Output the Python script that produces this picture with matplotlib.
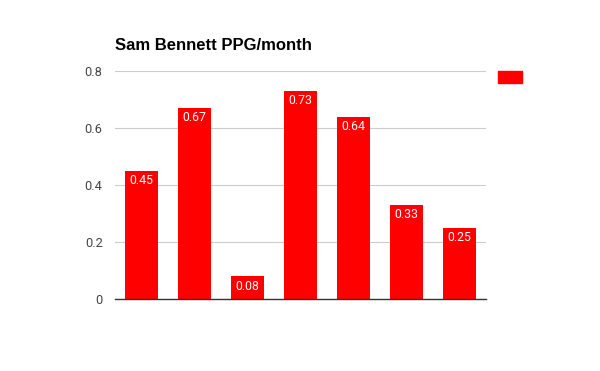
import matplotlib
matplotlib.use('Agg')
from matplotlib import pyplot as plt
from matplotlib.patches import Rectangle

# Points per game by month
months = ['M1', 'M2', 'M3', 'M4', 'M5', 'M6', 'M7']
ppg = [0.45, 0.67, 0.08, 0.73, 0.64, 0.33, 0.25]
labels = ['0.45', '0.67', '0.08', '0.73', '0.64', '0.33', '0.25']
y_ticks = [0, 0.2, 0.4, 0.6, 0.8]
y_tick_labels = ['0', '0.2', '0.4', '0.6', '0.8']

fig = plt.figure(figsize=(6, 3.71), dpi=100)
ax = fig.add_axes([115 / 600, 1 - 299 / 371, 371 / 600, 228 / 371])

xs = range(len(ppg))
ax.bar(xs, ppg, width=0.61, color='#ff0000', zorder=3)
for x, v, lab in zip(xs, ppg, labels):
    ax.text(x, v - 0.012, lab, ha='center', va='top', color='white',
            fontsize=8.8, family='Roboto', zorder=4)

ax.set_xlim(-0.5, len(ppg) - 0.5)
ax.set_ylim(0, 0.8)
ax.set_yticks(y_ticks)
ax.set_yticklabels(y_tick_labels, family='Roboto', fontsize=9.2, color='#444444')
ax.set_xticks([])
ax.tick_params(axis='y', length=0, pad=9)
ax.grid(axis='y', color='#cccccc', linewidth=0.8, zorder=0)
for s in ['top', 'right', 'left']:
    ax.spines[s].set_visible(False)
ax.spines['bottom'].set_color('#333333')
ax.spines['bottom'].set_linewidth(1)
ax.spines['bottom'].set_zorder(5)

fig.text(115 / 600, 1 - 45 / 371, 'Sam Bennett PPG/month', family='Liberation Sans',
         fontweight='bold', fontsize=12, va='center', ha='left')

# legend swatch with empty series name
fig.patches.append(Rectangle((498 / 600, 1 - 83 / 371), 24 / 600, 12 / 371,
                             transform=fig.transFigure, color='#ff0000'))

fig.savefig('out.png', dpi=100)
